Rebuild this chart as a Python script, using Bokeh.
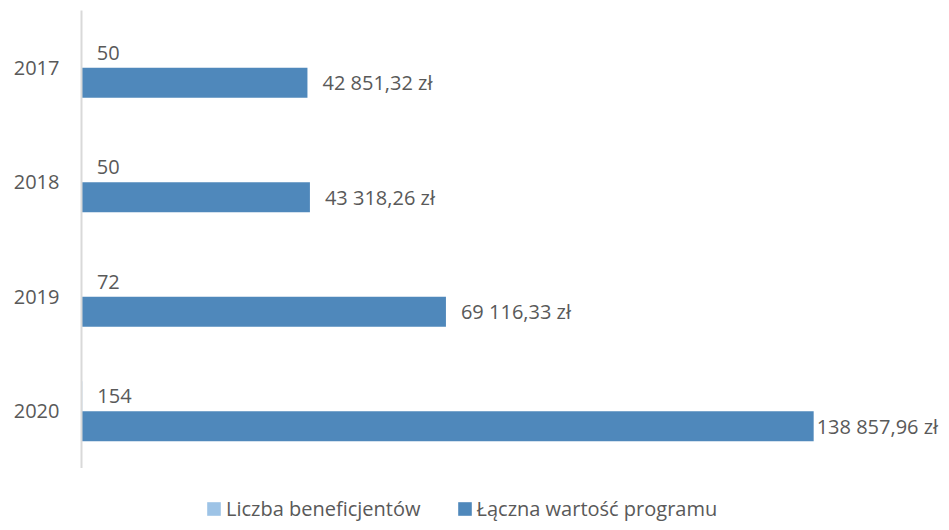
from bokeh.plotting import figure
from bokeh.layouts import column
from bokeh.models import FactorRange, Range1d, ColumnDataSource, Legend, LegendItem
from bokeh.transform import dodge
from bokeh.core.properties import value
from bokeh.embed import file_html
from bokeh.resources import INLINE

# ---- data ----
years = ["2017", "2018", "2019", "2020"]
beneficiaries = [50, 50, 72, 154]
program_value = [42851.32, 43318.26, 69116.33, 138857.96]
series_names = ["Liczba beneficjentów", "Łączna wartość programu"]

# ---- style ----
colors = ["#9dc3e6", "#4f88bb"]
FONT = "Open Sans"
TXT = "#595959"
FS = "20px"
BAR_H = 0.262
W = 941


def pln(v):
    return f"{v:,.2f}".replace(",", " ").replace(".", ",") + " zł"


vmax = max(program_value)
src = ColumnDataSource(dict(
    year=years,
    ben=beneficiaries,
    val=program_value,
    ben_lbl=[str(b) for b in beneficiaries],
    val_lbl=[pln(v) for v in program_value],
    ben_off=[15] * len(years),
    val_off=[3 if v == vmax else 15 for v in program_value],
))

p = figure(width=W, height=468,
           y_range=FactorRange(factors=years[::-1]),
           x_range=Range1d(0, 163100),
           output_backend="svg", toolbar_location=None,
           min_border_left=81, min_border_top=10,
           min_border_right=0, min_border_bottom=0)

r1 = p.hbar(y=dodge("year", BAR_H / 2, range=p.y_range), left=0, right="ben",
            height=BAR_H, source=src, fill_color=colors[0], line_color=None)
r2 = p.hbar(y=dodge("year", -BAR_H / 2, range=p.y_range), left=0, right="val",
            height=BAR_H, source=src, fill_color=colors[1], line_color=None)

p.text(x="ben", y=dodge("year", BAR_H / 2, range=p.y_range), text="ben_lbl",
       x_offset="ben_off", source=src, text_baseline="middle", text_align="left",
       text_font=value(FONT), text_font_size=FS, text_color=TXT)
p.text(x="val", y=dodge("year", -BAR_H / 2, range=p.y_range), text="val_lbl",
       x_offset="val_off", source=src, text_baseline="middle", text_align="left",
       text_font=value(FONT), text_font_size=FS, text_color=TXT)

p.xaxis.visible = False
p.xgrid.visible = False
p.ygrid.visible = False
p.outline_line_color = None

ax = p.yaxis[0]
ax.axis_line_color = "#d9d9d9"
ax.axis_line_width = 2
ax.major_tick_line_color = None
ax.minor_tick_line_color = None
ax.major_tick_out = 0
ax.major_tick_in = 0
ax.major_label_standoff = 22
ax.major_label_text_font = FONT
ax.major_label_text_font_size = FS
ax.major_label_text_color = TXT

# ---- legend strip below the chart ----
lf = figure(width=W, height=54, x_range=Range1d(0, 1), y_range=Range1d(0, 1),
            output_backend="svg", toolbar_location=None,
            min_border_left=0, min_border_right=0, min_border_top=0,
            min_border_bottom=0)
lf.axis.visible = False
lf.grid.visible = False
lf.outline_line_color = None
lr = [lf.hbar(y=[-5], left=0, right=[1], height=0.1, fill_color=c, line_color=None)
      for c in colors]

legend = Legend(items=[LegendItem(label=n, renderers=[r]) for n, r in zip(series_names, lr)],
                orientation="horizontal", location=(124, 0),
                padding=0, margin=0, border_line_color=None,
                background_fill_alpha=0,
                label_text_font=FONT, label_text_font_size=FS,
                label_text_color=TXT, glyph_width=17, glyph_height=17,
                label_standoff=4, spacing=35)
lf.add_layout(legend)

open("out.html", "w").write(file_html(column(p, lf, spacing=0), INLINE))
